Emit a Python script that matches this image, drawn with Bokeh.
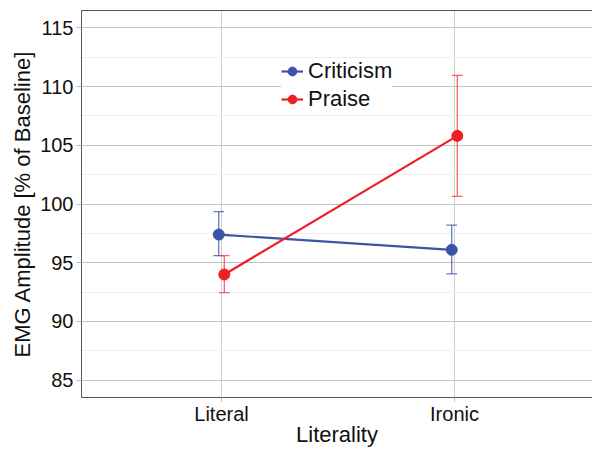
from bokeh.plotting import figure
from bokeh.models import (Range1d, FixedTicker, LinearAxis, Legend,
                          LegendItem, ColumnDataSource)
from bokeh.embed import file_html
from bokeh.resources import INLINE

# ---- data ----
categories = ["Literal", "Ironic"]
series_names = ["Criticism", "Praise"]
criticism_mean = [97.4, 96.1]
criticism_lower = [95.6, 94.05]
criticism_upper = [99.35, 98.2]
praise_mean = [94.0, 105.8]
praise_lower = [92.45, 100.65]
praise_upper = [95.6, 110.95]
y_ticks = [85, 90, 95, 100, 105, 110, 115]
x_title = "Literality"
y_title = "EMG Amplitude [% of Baseline]"

series = {
    "Criticism": (criticism_mean, criticism_lower, criticism_upper),
    "Praise": (praise_mean, praise_lower, praise_upper),
}

# ---- styles ----
FONT = "Liberation Sans"
colors = {"Criticism": "#3B54A5", "Praise": "#EE1F26"}
err_colors = {"Criticism": "#4A62B0", "Praise": "#F04950"}
dodge = {"Criticism": -0.012, "Praise": 0.012}
cap_half = 0.023
AXIS_COL = "#555555"

positions = [i + 1 for i in range(len(categories))]

p = figure(width=592, height=449, output_backend="svg", toolbar_location=None,
           x_range=Range1d(0.3991, 2.5922), y_range=Range1d(83.53, 116.47),
           min_border_left=81, min_border_right=0, min_border_top=10,
           min_border_bottom=51, background_fill_color="white",
           border_fill_color="white", outline_line_color=None)

# x axis
p.xaxis.ticker = FixedTicker(ticks=positions)
p.xaxis.major_label_overrides = {pos: c for pos, c in zip(positions, categories)}
p.xaxis.major_label_text_font = FONT
p.xaxis.major_label_text_font_size = "20px"
p.xaxis.major_label_text_color = "#111111"
p.xaxis.major_tick_out = 4
p.xaxis.major_tick_in = 0
p.xaxis.minor_tick_line_color = None
p.xaxis.major_tick_line_color = "#BBBBBB"
p.xaxis.major_label_standoff = 1
p.xaxis.axis_line_color = AXIS_COL
p.xaxis.axis_label = x_title
p.xaxis.axis_label_text_font = FONT
p.xaxis.axis_label_text_font_size = "22px"
p.xaxis.axis_label_text_font_style = "normal"
p.xaxis.axis_label_text_color = "#111111"
p.xaxis.axis_label_standoff = -6

# y axis
minor = [(a + b) / 2 for a, b in zip(y_ticks[:-1], y_ticks[1:])]
minor = [y_ticks[0] - 2.5] + minor + [y_ticks[-1] + 2.5]
p.yaxis.ticker = FixedTicker(ticks=y_ticks, minor_ticks=minor)
p.yaxis.major_label_text_font = FONT
p.yaxis.major_label_text_font_size = "20px"
p.yaxis.major_label_text_color = "#111111"
p.yaxis.major_tick_out = 5
p.yaxis.major_tick_in = 0
p.yaxis.minor_tick_line_color = None
p.yaxis.major_tick_line_color = "#BBBBBB"
p.yaxis.major_label_standoff = 3
p.yaxis.axis_line_color = AXIS_COL
p.yaxis.axis_label = y_title
p.yaxis.axis_label_text_font = FONT
p.yaxis.axis_label_text_font_size = "22px"
p.yaxis.axis_label_text_font_style = "normal"
p.yaxis.axis_label_text_color = "#111111"
p.yaxis.axis_label_standoff = 2

# top border
top = LinearAxis(ticker=FixedTicker(ticks=[]), major_label_text_font_size="0px",
                 major_tick_out=0, minor_tick_out=0, major_label_standoff=0,
                 axis_line_color=AXIS_COL)
p.add_layout(top, "above")

# grids
p.ygrid.grid_line_color = "#C2C2C2"
p.ygrid.grid_line_width = 1
p.ygrid.minor_grid_line_color = "#EEEEEE"
p.xgrid.grid_line_color = "#CDCDCD"

items = []
for name in series_names:
    mean, lower, upper = series[name]
    xs = [pos + dodge[name] for pos in positions]
    src = ColumnDataSource(dict(x=xs, y=mean, lo=lower, hi=upper,
                                xl=[x - cap_half for x in xs],
                                xr=[x + cap_half for x in xs]))
    ec = err_colors[name]
    p.segment(x0="x", y0="lo", x1="x", y1="hi", source=src, line_color=ec,
              line_width=1.3, line_alpha=0.85)
    p.segment(x0="xl", y0="hi", x1="xr", y1="hi", source=src, line_color=ec,
              line_width=1.3, line_alpha=0.85)
    p.segment(x0="xl", y0="lo", x1="xr", y1="lo", source=src, line_color=ec,
              line_width=1.3, line_alpha=0.85)
    lr = p.line("x", "y", source=src, line_color=colors[name], line_width=2.2)
    sr = p.scatter("x", "y", source=src, size=11, marker="circle",
                   fill_color=colors[name], line_color=colors[name])
    items.append(LegendItem(label=name, renderers=[lr, sr]))

legend = Legend(items=items, location=(200, 285), orientation="vertical",
                label_text_font=FONT, label_text_font_size="22px",
                label_text_color="#111111", glyph_width=22, glyph_height=24,
                label_height=24, label_standoff=5, spacing=2, padding=4,
                margin=0, border_line_color=None, background_fill_color="white",
                background_fill_alpha=1.0)
p.add_layout(legend)

open("out.html", "w").write(file_html(p, INLINE))
